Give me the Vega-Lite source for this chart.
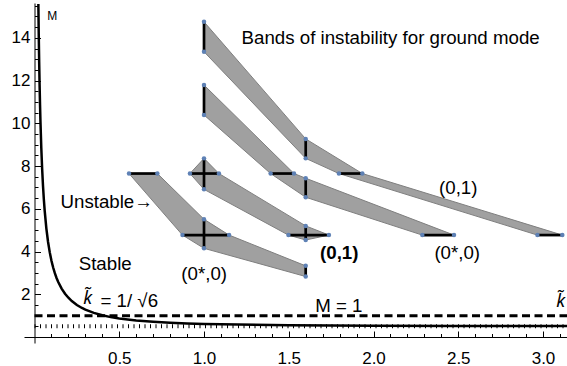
{
  "$schema": "https://vega.github.io/schema/vega-lite/v6.json",
  "width": 543,
  "height": 340,
  "autosize": {"type": "none"},
  "padding": {"left": 24, "top": 3, "right": 0, "bottom": 23},
  "config": {"view": {"stroke": null}, "font": "Liberation Sans"},
  "datasets": {
    "curve": [
      {"k": 0.0227, "M": 15.58}, {"k": 0.025, "M": 14.15}, {"k": 0.0275, "M": 12.87}, {"k": 0.03, "M": 11.8},
      {"k": 0.0325, "M": 10.89}, {"k": 0.035, "M": 10.11}, {"k": 0.04, "M": 8.853}, {"k": 0.045, "M": 7.873},
      {"k": 0.05, "M": 7.089}, {"k": 0.055, "M": 6.448}, {"k": 0.06, "M": 5.914}, {"k": 0.07, "M": 5.076},
      {"k": 0.08, "M": 4.448}, {"k": 0.09, "M": 3.96}, {"k": 0.1, "M": 3.571}, {"k": 0.11, "M": 3.253},
      {"k": 0.12, "M": 2.988}, {"k": 0.13, "M": 2.765}, {"k": 0.14, "M": 2.574}, {"k": 0.16, "M": 2.266},
      {"k": 0.18, "M": 2.027}, {"k": 0.2, "M": 1.837}, {"k": 0.22, "M": 1.683}, {"k": 0.25, "M": 1.5},
      {"k": 0.28, "M": 1.358}, {"k": 0.3, "M": 1.28}, {"k": 0.35, "M": 1.127}, {"k": 0.4, "M": 1.016},
      {"k": 0.45, "M": 0.931}, {"k": 0.5, "M": 0.866}, {"k": 0.6, "M": 0.773}, {"k": 0.7, "M": 0.711},
      {"k": 0.8, "M": 0.666}, {"k": 0.9, "M": 0.636}, {"k": 1.0, "M": 0.612}, {"k": 1.2, "M": 0.58},
      {"k": 1.5, "M": 0.553}, {"k": 2.0, "M": 0.53}, {"k": 2.5, "M": 0.52}, {"k": 3.1416, "M": 0.512}
    ],
    "bands": [
      {"band": 1, "i": 0, "k": 1.0, "M": 14.75}, {"band": 1, "i": 1, "k": 1.6, "M": 9.27},
      {"band": 1, "i": 2, "k": 1.934, "M": 7.65}, {"band": 1, "i": 3, "k": 3.114, "M": 4.77},
      {"band": 1, "i": 4, "k": 2.967, "M": 4.77}, {"band": 1, "i": 5, "k": 1.796, "M": 7.65},
      {"band": 1, "i": 6, "k": 1.6, "M": 8.36}, {"band": 1, "i": 7, "k": 1.0, "M": 13.35},
      {"band": 1, "i": 8, "k": 1.0, "M": 14.75},
      {"band": 2, "i": 0, "k": 1.0, "M": 11.79}, {"band": 2, "i": 1, "k": 1.531, "M": 7.65},
      {"band": 2, "i": 2, "k": 1.6, "M": 7.43}, {"band": 2, "i": 3, "k": 2.475, "M": 4.77},
      {"band": 2, "i": 4, "k": 2.288, "M": 4.77}, {"band": 2, "i": 5, "k": 1.6, "M": 6.54},
      {"band": 2, "i": 6, "k": 1.393, "M": 7.65}, {"band": 2, "i": 7, "k": 1.0, "M": 10.39},
      {"band": 2, "i": 8, "k": 1.0, "M": 11.79},
      {"band": 3, "i": 0, "k": 0.917, "M": 7.65}, {"band": 3, "i": 1, "k": 1.0, "M": 8.36},
      {"band": 3, "i": 2, "k": 1.088, "M": 7.65}, {"band": 3, "i": 3, "k": 1.6, "M": 5.2},
      {"band": 3, "i": 4, "k": 1.737, "M": 4.77}, {"band": 3, "i": 5, "k": 1.6, "M": 4.54},
      {"band": 3, "i": 6, "k": 1.498, "M": 4.77}, {"band": 3, "i": 7, "k": 1.0, "M": 6.91},
      {"band": 3, "i": 8, "k": 0.917, "M": 7.65},
      {"band": 4, "i": 0, "k": 0.725, "M": 7.65}, {"band": 4, "i": 1, "k": 1.0, "M": 5.51},
      {"band": 4, "i": 2, "k": 1.148, "M": 4.77}, {"band": 4, "i": 3, "k": 1.6, "M": 3.33},
      {"band": 4, "i": 4, "k": 1.6, "M": 2.83}, {"band": 4, "i": 5, "k": 1.0, "M": 4.15},
      {"band": 4, "i": 6, "k": 0.873, "M": 4.77}, {"band": 4, "i": 7, "k": 0.5575, "M": 7.65},
      {"band": 4, "i": 8, "k": 0.725, "M": 7.65}
    ],
    "segments": [
      {"k": 1.0, "M": 13.35, "k2": 1.0, "M2": 14.75}, {"k": 1.6, "M": 8.36, "k2": 1.6, "M2": 9.27},
      {"k": 1.796, "M": 7.65, "k2": 1.934, "M2": 7.65}, {"k": 2.967, "M": 4.77, "k2": 3.114, "M2": 4.77},
      {"k": 1.0, "M": 10.39, "k2": 1.0, "M2": 11.79}, {"k": 1.393, "M": 7.65, "k2": 1.531, "M2": 7.65},
      {"k": 1.6, "M": 6.54, "k2": 1.6, "M2": 7.43}, {"k": 2.288, "M": 4.77, "k2": 2.475, "M2": 4.77},
      {"k": 0.917, "M": 7.65, "k2": 1.088, "M2": 7.65}, {"k": 1.0, "M": 6.91, "k2": 1.0, "M2": 8.36},
      {"k": 1.498, "M": 4.77, "k2": 1.737, "M2": 4.77}, {"k": 1.6, "M": 4.54, "k2": 1.6, "M2": 5.2},
      {"k": 0.5575, "M": 7.65, "k2": 0.725, "M2": 7.65}, {"k": 0.873, "M": 4.77, "k2": 1.148, "M2": 4.77},
      {"k": 1.0, "M": 4.15, "k2": 1.0, "M2": 5.51}, {"k": 1.6, "M": 2.83, "k2": 1.6, "M2": 3.33}
    ],
    "refs": [
      {"name": "M=1", "k": 0, "k2": 3.1416, "M": 1},
      {"name": "half", "k": 0, "k2": 3.1416, "M": 0.5}
    ],
    "labels": [
      {"text": "Bands of instability for ground mode", "k": 2.101, "M": 14.01},
      {"text": "Unstable→", "k": 0.426, "M": 6.34},
      {"text": "Stable", "k": 0.417, "M": 3.4},
      {"text": "= 1/ √6", "k": 0.559, "M": 1.7},
      {"text": "M = 1", "k": 1.795, "M": 1.45},
      {"text": "(0*,0)", "k": 1.001, "M": 2.95},
      {"text": "(0,1)", "k": 2.5, "M": 6.97},
      {"text": "(0*,0)", "k": 2.494, "M": 3.91}
    ],
    "boldlabels": [
      {"text": "(0,1)", "k": 1.798, "M": 3.91}
    ],
    "ktilde": [
      {"text": "k̃", "k": 0.314, "M": 1.78},
      {"text": "k̃", "k": 3.104, "M": 1.64}
    ],
    "axislabel": [
      {"text": "M", "k": 0.104, "M": 15.02}
    ]
  },
  "encoding": {
    "x": {
      "field": "k", "type": "quantitative",
      "scale": {"domain": [-0.062, 3.1416], "nice": false, "zero": false},
      "axis": {
        "orient": "top",
        "title": null, "grid": false, "offset": -334,
        "values": [0.1,0.2,0.3,0.4,0.5,0.6,0.7,0.8,0.9,1.0,1.1,1.2,1.3,1.4,1.5,1.6,1.7,1.8,1.9,2.0,2.1,2.2,2.3,2.4,2.5,2.6,2.7,2.8,2.9,3.0,3.1],
        "labelExpr": "abs(datum.value*2 - round(datum.value*2)) < 0.001 ? format(datum.value, '.1f') : ''",
        "tickSize": {"condition": {"test": "abs(datum.value*2 - round(datum.value*2)) < 0.001", "value": 6}, "value": 3.5},
        "labelPadding": -19,
        "labelBaseline": "top",
        "labelFontSize": 17, "labelFont": "Liberation Sans", "labelColor": "black",
        "domainColor": "black", "tickColor": "black", "domainWidth": 1, "tickWidth": 1,
        "labelOverlap": false, "labelBound": false, "labelFlush": false
      }
    },
    "y": {
      "field": "M", "type": "quantitative",
      "scale": {"domain": [-0.28, 15.63], "nice": false, "zero": false},
      "axis": {
        "orient": "right",
        "title": null, "grid": false, "offset": -532.5,
        "values": [0.5,1,1.5,2,2.5,3,3.5,4,4.5,5,5.5,6,6.5,7,7.5,8,8.5,9,9.5,10,10.5,11,11.5,12,12.5,13,13.5,14,14.5,15,15.5],
        "labelExpr": "datum.value % 2 == 0 ? format(datum.value, 'd') : ''",
        "tickSize": {"condition": {"test": "datum.value % 2 == 0", "value": 6}, "value": 3.5},
        "labelPadding": -10.5,
        "labelAlign": "right",
        "labelFontSize": 17, "labelFont": "Liberation Sans", "labelColor": "black",
        "domainColor": "black", "tickColor": "black", "domainWidth": 1, "tickWidth": 1,
        "labelOverlap": false, "labelBound": false, "labelFlush": false
      }
    }
  },
  "layer": [
    {
      "data": {"name": "bands"},
      "mark": {"type": "line", "fill": "#a0a0a0", "stroke": "#7f7f7f", "strokeWidth": 1, "strokeJoin": "round"},
      "encoding": {"order": {"field": "i", "type": "quantitative"}, "detail": {"field": "band", "type": "nominal"}}
    },
    {
      "data": {"name": "refs"},
      "transform": [{"filter": "datum.name == 'M=1'"}],
      "mark": {"type": "rule", "color": "black", "strokeWidth": 3, "strokeDash": [8, 4.5]},
      "encoding": {"x2": {"field": "k2"}}
    },
    {
      "data": {"name": "refs"},
      "transform": [{"filter": "datum.name == 'half'"}],
      "mark": {"type": "rule", "color": "black", "strokeWidth": 4, "strokeDash": [1, 4.5]},
      "encoding": {"x2": {"field": "k2"}}
    },
    {
      "data": {"name": "curve"},
      "mark": {"type": "line", "color": "black", "strokeWidth": 2.5, "clip": true},
      "encoding": {"order": {"field": "k", "type": "quantitative"}}
    },
    {
      "data": {"name": "segments"},
      "mark": {"type": "rule", "color": "black", "strokeWidth": 2.7},
      "encoding": {"x2": {"field": "k2"}, "y2": {"field": "M2"}}
    },
    {
      "data": {"name": "bands"},
      "transform": [{"filter": "datum.i < 8"}],
      "mark": {"type": "point", "filled": true, "color": "#5e81b5", "size": 20, "opacity": 1},
      "encoding": {}
    },
    {
      "data": {"name": "labels"},
      "mark": {"type": "text", "font": "Liberation Sans", "fontSize": 18.7, "color": "black", "align": "center", "baseline": "middle"},
      "encoding": {"text": {"field": "text"}}
    },
    {
      "data": {"name": "boldlabels"},
      "mark": {"type": "text", "font": "Liberation Sans", "fontSize": 18.7, "fontWeight": "bold", "color": "black", "align": "center", "baseline": "middle"},
      "encoding": {"text": {"field": "text"}}
    },
    {
      "data": {"name": "ktilde"},
      "mark": {"type": "text", "font": "Noto Sans", "fontSize": 18, "fontStyle": "italic", "color": "black", "align": "center", "baseline": "middle"},
      "encoding": {"text": {"field": "text"}}
    },
    {
      "data": {"name": "axislabel"},
      "mark": {"type": "text", "font": "Liberation Sans", "fontSize": 12, "color": "black", "align": "center", "baseline": "middle"},
      "encoding": {"text": {"field": "text"}}
    }
  ]
}
